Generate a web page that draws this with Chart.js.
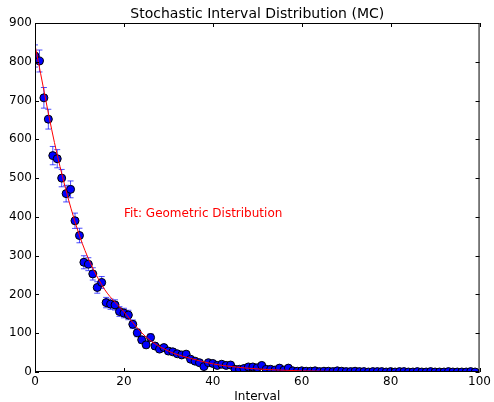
<!DOCTYPE html>
<html>
<head>
<meta charset="utf-8">
<script src="https://cdn.jsdelivr.net/npm/chart.js@4/dist/chart.umd.min.js"></script>
<style>
  html, body { margin: 0; padding: 0; background: #fff; }
  #wrap { width: 494px; height: 402px; }
</style>
</head>
<body>
<div id="wrap"><canvas id="mcChart" width="494" height="402"></canvas></div>
<script>
// interval values (x) and simulated counts (y)
const intervals = [
  0, 1, 2, 3, 4, 5, 6, 7, 8, 9,
  10, 11, 12, 13, 14, 15, 16, 17, 18, 19,
  20, 21, 22, 23, 24, 25, 26, 27, 28, 29,
  30, 31, 32, 33, 34, 35, 36, 37, 38, 39,
  40, 41, 42, 43, 44, 45, 46, 47, 48, 49,
  50, 51, 52, 53, 54, 55, 56, 57, 58, 59,
  60, 61, 62, 63, 64, 65, 66, 67, 68, 69,
  70, 71, 72, 73, 74, 75, 76, 77, 78, 79,
  80, 81, 82, 83, 84, 85, 86, 87, 88, 89,
  90, 91, 92, 93, 94, 95, 96, 97, 98, 99
];
const counts = [
  815, 802, 707, 652, 558, 550, 500, 460, 471, 390,
  352, 283, 278, 253, 218, 231, 179, 175, 173, 156,
  152, 147, 123, 101, 83, 70, 89, 67, 59, 63,
  54, 52, 47, 44, 46, 33, 28, 24, 14, 24,
  22, 17, 20, 17, 18, 7, 7, 9, 13, 13,
  11, 17, 7, 7, 5, 10, 5, 10, 3, 2,
  3, 2, 2, 3, 1, 2, 2, 1, 3, 2,
  1, 1, 2, 1, 1, 0, 1, 1, 1, 0,
  1, 0, 1, 1, 0, 0, 1, 0, 0, 1,
  0, 0, 0, 1, 0, 0, 0, 0, 1, 0
];

// geometric fit curve
const fitX = [0, 5, 10, 15, 20, 25, 30, 35, 40, 45, 50, 55, 60, 70, 80, 90, 100];
const fitY = [843, 560, 352, 225, 155, 90, 54, 35, 21, 13, 8, 5, 3, 1, 0.4, 0.15, 0.05];

const xTicks = [0, 20, 40, 60, 80, 100];
const yTicks = [0, 100, 200, 300, 400, 500, 600, 700, 800, 900];

const FONT = "'DejaVu Sans', sans-serif";

// error bars (sqrt of count), drawn under the markers
const errorBars = {
  id: "errorBars",
  beforeDatasetsDraw(chart) {
    const { ctx, chartArea: a } = chart;
    const xs = chart.scales.x, ys = chart.scales.y;
    ctx.save();
    ctx.beginPath();
    ctx.rect(a.left, a.top, a.right - a.left, a.bottom - a.top);
    ctx.clip();
    ctx.strokeStyle = "rgba(0,0,255,0.7)";
    ctx.lineWidth = 1;
    intervals.forEach((iv, i) => {
      const err = Math.sqrt(counts[i]);
      if (err === 0) return;
      const px = xs.getPixelForValue(iv);
      const top = ys.getPixelForValue(counts[i] + err);
      const bot = ys.getPixelForValue(counts[i] - err);
      ctx.beginPath();
      ctx.moveTo(px, top); ctx.lineTo(px, bot);
      ctx.moveTo(px - 3, top); ctx.lineTo(px + 3, top);
      ctx.moveTo(px - 3, bot); ctx.lineTo(px + 3, bot);
      ctx.stroke();
    });
    ctx.restore();
  },
};

// frame, inward ticks, title, axis label, annotation
const decorations = {
  id: "decorations",
  afterDraw(chart) {
    const { ctx, chartArea: a } = chart;
    const xs = chart.scales.x, ys = chart.scales.y;
    ctx.save();
    ctx.strokeStyle = "#000";
    ctx.lineWidth = 1;
    ctx.strokeRect(a.left + 0.5, a.top + 0.5, a.right - a.left - 1, a.bottom - a.top - 1);
    ctx.beginPath();
    xTicks.forEach(t => {
      const px = Math.round(xs.getPixelForValue(t)) + 0.5;
      ctx.moveTo(px, a.bottom); ctx.lineTo(px, a.bottom - 4);
      ctx.moveTo(px, a.top); ctx.lineTo(px, a.top + 4);
    });
    yTicks.forEach(t => {
      const py = Math.round(ys.getPixelForValue(t)) + 0.5;
      ctx.moveTo(a.left, py); ctx.lineTo(a.left + 4, py);
      ctx.moveTo(a.right, py); ctx.lineTo(a.right - 4, py);
    });
    ctx.stroke();

    ctx.fillStyle = "#000";
    ctx.textAlign = "center";
    ctx.textBaseline = "middle";
    ctx.font = "14px " + FONT;
    ctx.fillText("Stochastic Interval Distribution (MC)", (a.left + a.right) / 2, 14);
    ctx.font = "12px " + FONT;
    ctx.fillText("Interval", (a.left + a.right) / 2, 397);

    ctx.fillStyle = "#ff0000";
    ctx.textAlign = "left";
    ctx.textBaseline = "alphabetic";
    ctx.fillText("Fit: Geometric Distribution", xs.getPixelForValue(20), ys.getPixelForValue(400));
    ctx.restore();
  },
};

const ctx = document.getElementById("mcChart").getContext("2d");
new Chart(ctx, {
  type: "scatter",
  data: {
    datasets: [
      {
        label: "fit",
        data: fitX.map((x, i) => ({ x: x, y: fitY[i] })),
        showLine: true,
        borderColor: "#ff0000",
        borderWidth: 1,
        pointRadius: 0,
        cubicInterpolationMode: "monotone",
        clip: 0,
        order: 0,
      },
      {
        label: "MC",
        data: intervals.map((x, i) => ({ x: x, y: counts[i] })),
        showLine: false,
        pointRadius: 4,
        pointBackgroundColor: "#0000ff",
        pointBorderColor: "#000000",
        pointBorderWidth: 1,
        clip: 0,
        order: 1,
      },
    ],
  },
  options: {
    responsive: false,
    animation: false,
    devicePixelRatio: 1,
    layout: { padding: { top: 23, right: 12, left: 0, bottom: 0 } },
    scales: {
      x: {
        type: "linear",
        min: 0,
        max: 100,
        afterFit: (s) => { s.height = 30; },
        afterBuildTicks: (s) => { s.ticks = xTicks.map(v => ({ value: v })); },
        ticks: { color: "#000", font: { family: FONT, size: 12 }, padding: 3, maxRotation: 0 },
        grid: { display: true, drawOnChartArea: false, drawTicks: false },
        border: { display: false },
      },
      y: {
        type: "linear",
        min: 0,
        max: 900,
        afterFit: (s) => { s.width = 35; },
        afterBuildTicks: (s) => { s.ticks = yTicks.map(v => ({ value: v })); },
        ticks: { color: "#000", font: { family: FONT, size: 12 }, padding: 3 },
        grid: { display: true, drawOnChartArea: false, drawTicks: false },
        border: { display: false },
      },
    },
    plugins: {
      legend: { display: false },
      tooltip: { enabled: false },
    },
  },
  plugins: [errorBars, decorations],
});
</script>
</body>
</html>
